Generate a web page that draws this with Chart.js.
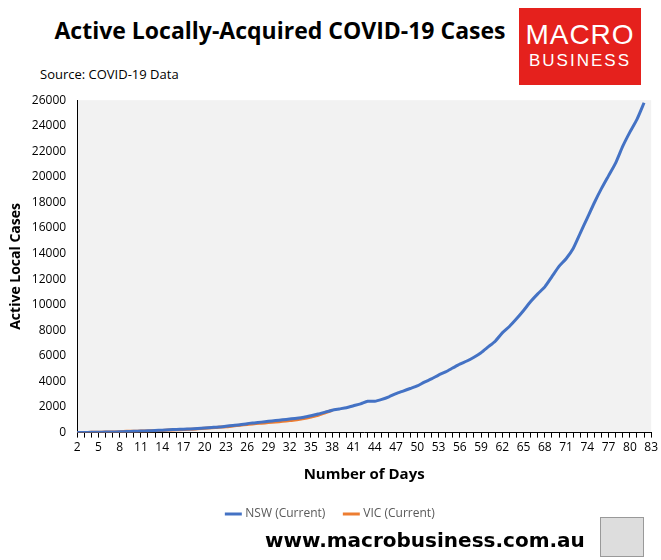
<!DOCTYPE html>
<html>
<head>
<meta charset="utf-8">
<script src="https://cdn.jsdelivr.net/npm/chart.js@4/dist/chart.umd.min.js"></script>
<style>
  body { margin: 0; width: 661px; height: 560px; background: #fff; font-family: "Open Sans", "Liberation Sans", Arial, sans-serif; position: relative; overflow: hidden; }
  #title { position: absolute; left: 50px; top: 14px; width: 460px; text-align: center; font-weight: bold; font-size: 23px; color: #000; white-space: nowrap; }
  #source { position: absolute; left: 40px; top: 65px; font-size: 13px; }
  #logo { position: absolute; left: 519px; top: 8px; width: 122px; height: 77px; background: #e5211d; color: #fff; text-align: center; font-family: "Liberation Sans Narrow", "Liberation Sans", Arial, sans-serif; }
  #logo .a { font-size: 28px; margin-top: 11px; letter-spacing: 1px; }
  #logo .b { font-size: 17px; letter-spacing: 2px; }
  #wrap { position: absolute; left: 0; top: 90px; width: 661px; height: 440px; }
  #footer { position: absolute; left: 265px; top: 528px; font-weight: bold; font-size: 20px; font-family: "DejaVu Sans", sans-serif; }
  #wolf { position: absolute; left: 600px; top: 517px; width: 42px; height: 38px; background: #ddd; border: 1px solid #999; }
</style>
</head>
<body>
<div id="title">Active Locally-Acquired COVID-19 Cases</div>
<div id="source">Source: COVID-19 Data</div>
<div id="logo"><div class="a">MACRO</div><div class="b">BUSINESS</div></div>
<div id="wrap"><canvas id="c"></canvas></div>
<div id="footer">www.macrobusiness.com.au</div>
<div id="wolf"></div>
<script>
// days 2..83
const days = Array.from({ length: 82 }, (_, i) => String(i + 2));

const nsw = [0,10,20,30,40,50,60,80,100,120,140,160,190,220,250,270,290,320,360,400,440,500,560,620,700,760,820,880,940,1000,1060,1120,1200,1320,1450,1600,1750,1850,1950,2100,2250,2450,2450,2600,2800,3050,3250,3450,3650,3950,4200,4500,4750,5050,5350,5600,5900,6250,6700,7150,7800,8300,8900,9550,10250,10850,11400,12200,13000,13600,14400,15600,16800,18000,19100,20100,21100,22400,23500,24500,25800,null];

const vic = [0,10,20,30,40,50,60,100,110,120,130,150,170,200,220,240,260,300,340,380,420,460,520,580,640,700,740,780,830,880,940,1000,1100,1220,1350,1550,1750];

const plotBg = {
    id: 'plotBg',
    beforeDraw(chart) {
        const a = chart.chartArea, ctx = chart.ctx;
        ctx.save();
        ctx.fillStyle = '#f2f2f2';
        ctx.fillRect(a.left, a.top, a.right - a.left, a.bottom - a.top);
        ctx.restore();
    }
};

const font = '"Open Sans", "Liberation Sans", sans-serif';

new Chart(document.getElementById('c'), {
    type: 'line',
    data: {
        labels: days,
        datasets: [
            { label: 'NSW (Current)', data: nsw, borderColor: '#4472c4', borderWidth: 3, pointRadius: 0, tension: 0.2 },
            { label: 'VIC (Current)', data: vic, borderColor: '#ed7d31', borderWidth: 3, pointRadius: 0, tension: 0.2 }
        ]
    },
    options: {
        responsive: true,
        maintainAspectRatio: false,
        animation: false,
        layout: { padding: { left: 4, right: 3, top: 10 } },
        plugins: {
            legend: {
                position: 'bottom',
                labels: { usePointStyle: true, pointStyle: 'line', color: '#595959', font: { size: 12, family: font }, padding: 20, boxWidth: 40 }
            },
            tooltip: { enabled: false }
        },
        scales: {
            x: {
                offset: false,
                grid: { drawOnChartArea: false, color: '#000', tickLength: 5 },
                border: { color: '#000' },
                ticks: {
                    autoSkip: false, maxRotation: 0, color: '#000', font: { size: 12, family: font },
                    callback: (v, i) => (i % 3 === 0 ? days[i] : '')
                },
                title: { display: true, text: 'Number of Days', font: { size: 15, weight: 'bold', family: font }, color: '#000', padding: { top: 8 } }
            },
            y: {
                min: 0, max: 26000,
                grid: { display: false },
                border: { color: '#000' },
                ticks: { stepSize: 2000, color: '#000', font: { size: 12, family: font }, callback: v => String(v) },
                title: { display: true, text: 'Active Local Cases', font: { size: 14, weight: 'bold', family: font }, color: '#000' }
            }
        }
    },
    plugins: [plotBg]
});
</script>
</body>
</html>
